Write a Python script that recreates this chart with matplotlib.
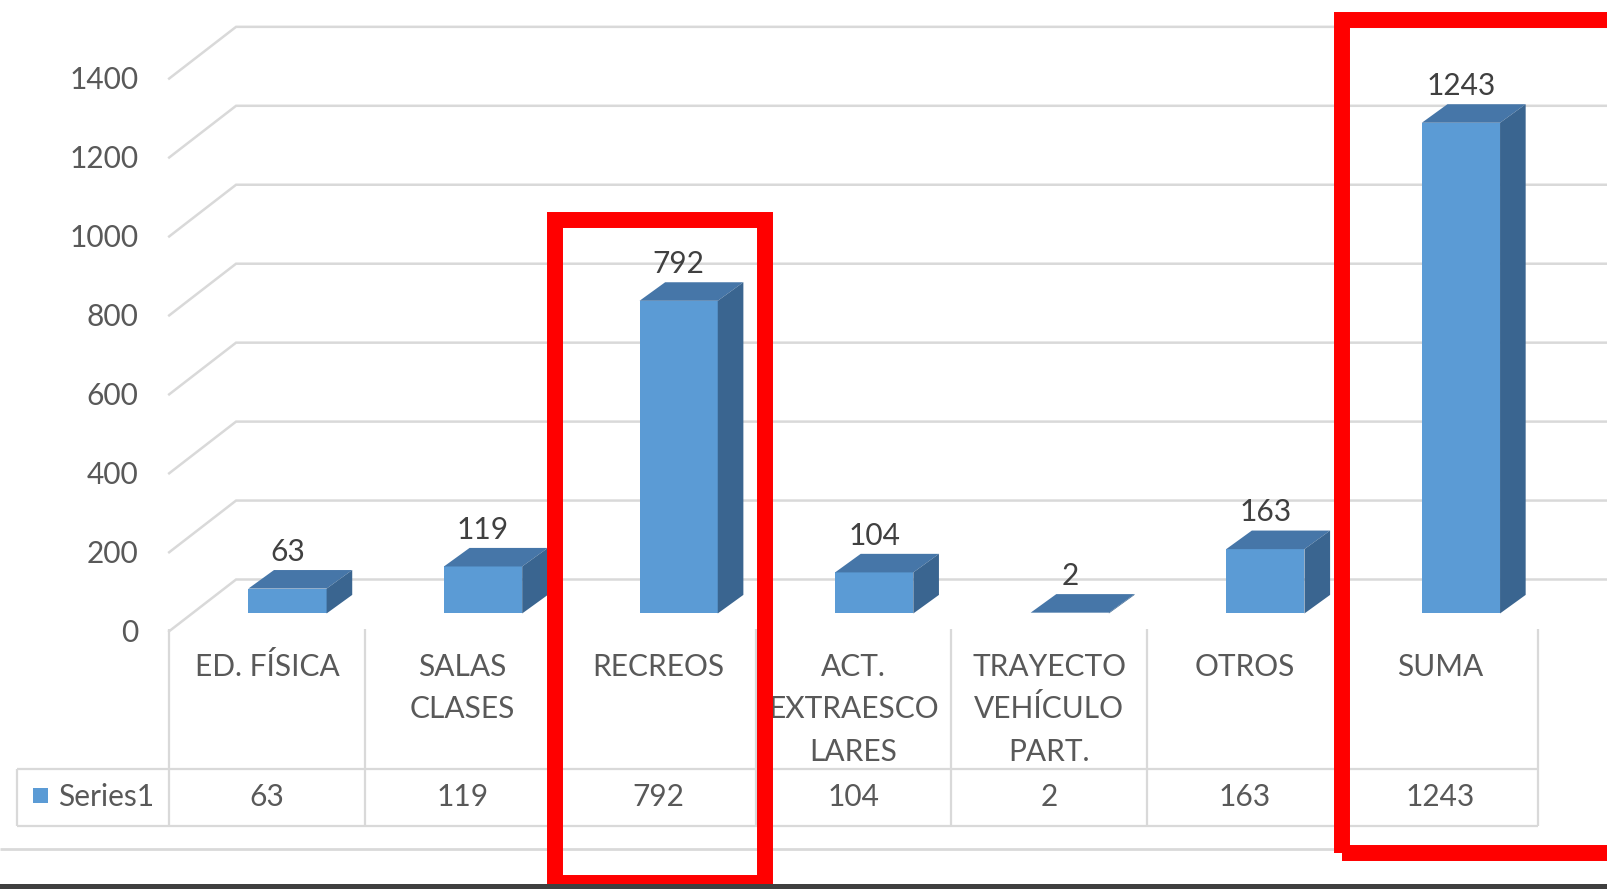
import numpy as np
import matplotlib.pyplot as plt
import matplotlib.transforms as mtransforms
from matplotlib.patches import Polygon, Rectangle

# Accidentes por lugar
categories = ["ED. FÍSICA", "SALAS\nCLASES", "RECREOS", "ACT.\nEXTRAESCO\nLARES",
              "TRAYECTO\nVEHÍCULO\nPART.", "OTROS", "SUMA"]
values = [63, 119, 792, 104, 2, 163, 1243]
series_name = "Series1"
y_ticks = [0, 200, 400, 600, 800, 1000, 1200, 1400]
highlighted = ["RECREOS", "SUMA"]

plt.rcParams["font.family"] = ["Lato", "DejaVu Sans"]

FRONT = "#5B9BD5"
TOP = "#4676A8"
SIDE = "#3A6590"
GRID = "#D9D9D9"
TXT = "#595959"
FS = 21.5

fig = plt.figure(figsize=(16.08, 8.89), dpi=100)
ax = fig.add_axes([0, 0, 1, 1])
xmin, xmax = -1.365, 6.857
ax.set_xlim(xmin, xmax)
ax.set_ylim(-698, 1554)
ax.axis("off")
# x in data units, y in axes fraction (used for the table rows)
tr = mtransforms.blended_transform_factory(ax.transData, ax.transAxes)

# depth of the bars and of the back wall
dx, dy = 0.131, 47
wall_x, wall_dy, front_dy = -0.158, 86, -45

# back wall gridlines + side wall diagonals
for v in y_ticks:
    ax.plot([-0.5, wall_x, xmax], [v + front_dy, v + wall_dy, v + wall_dy],
            color=GRID, lw=1.8, zorder=1, solid_joinstyle="miter")
    ax.text(-0.657, v - 49, str(v), ha="right", va="center",
            fontsize=FS, color=TXT)

# bars: front face from ax.bar, top/side faces as polygons
n = len(values)
xc = np.arange(n) + 0.105
w = 0.4
ax.bar(xc, values, width=w, color=FRONT, zorder=3)
for x, v in zip(xc, values):
    x0, x1 = x - w / 2, x + w / 2
    ax.add_patch(Polygon([(x0, v), (x0 + dx, v + dy), (x1 + dx, v + dy), (x1, v)],
                         closed=True, facecolor=TOP, edgecolor="none", zorder=3))
    ax.add_patch(Polygon([(x1, 0), (x1 + dx, dy), (x1 + dx, v + dy), (x1, v)],
                         closed=True, facecolor=SIDE, edgecolor="none", zorder=3))
    ax.annotate(f"{v}", (x, v + dy), xytext=(0, 3), textcoords="offset points",
                ha="center", va="bottom", fontsize=FS, color="#404040", zorder=4)

# data table under the chart
table_left = -1.276
row_top, row_mid, row_bot = 0.293, 0.135, 0.0714
edges = np.arange(n + 1) - 0.5
ax.vlines(edges, row_bot, row_top, transform=tr, color=GRID, lw=1.6, zorder=2)
ax.hlines([row_mid, row_bot], table_left, edges[-1], transform=tr,
          color=GRID, lw=1.6, zorder=2)
ax.vlines(table_left, row_bot, row_mid, transform=tr, color=GRID, lw=1.6, zorder=2)

line_y = [0.2502, 0.2029, 0.1544]
for i, (cat, v) in enumerate(zip(categories, values)):
    for k, part in enumerate(cat.split("\n")):
        ax.text(i, line_y[k], part, transform=tr, ha="center", va="center",
                fontsize=FS, color=TXT)
    ax.text(i, 0.104, f"{v}", transform=tr, ha="center", va="center",
            fontsize=FS, color=TXT)

# legend key inside the table
ax.add_patch(Rectangle((-1.197, 0.0967), 0.078, 0.0174, transform=tr,
                       facecolor=FRONT, edgecolor="none", zorder=3))
ax.text(-1.066, 0.104, series_name, transform=tr, ha="left", va="center",
        fontsize=FS, color=TXT)

# chart area border line and bottom frame
ax.hlines(0.045, xmin, xmax, transform=tr, color=GRID, lw=2, zorder=2)
ax.add_patch(Rectangle((xmin, 0), xmax - xmin, 0.0056, transform=tr,
                       facecolor="#3f3f3f", edgecolor="none", zorder=12))

# red highlight boxes
boxes = {"RECREOS": (-0.528, 1.074, 0.0067, 0.7525),
         "SUMA": (-0.502, 1.6, 0.041, 0.9775)}
for name in highlighted:
    i = categories.index(name)
    off, bw, yb, yt = boxes[name]
    ax.add_patch(Rectangle((i + off, yb), bw, yt - yb, transform=tr, fill=False,
                           edgecolor="#FF0000", lw=11.5, joinstyle="miter",
                           zorder=10))

fig.savefig("out.png", dpi=100)
